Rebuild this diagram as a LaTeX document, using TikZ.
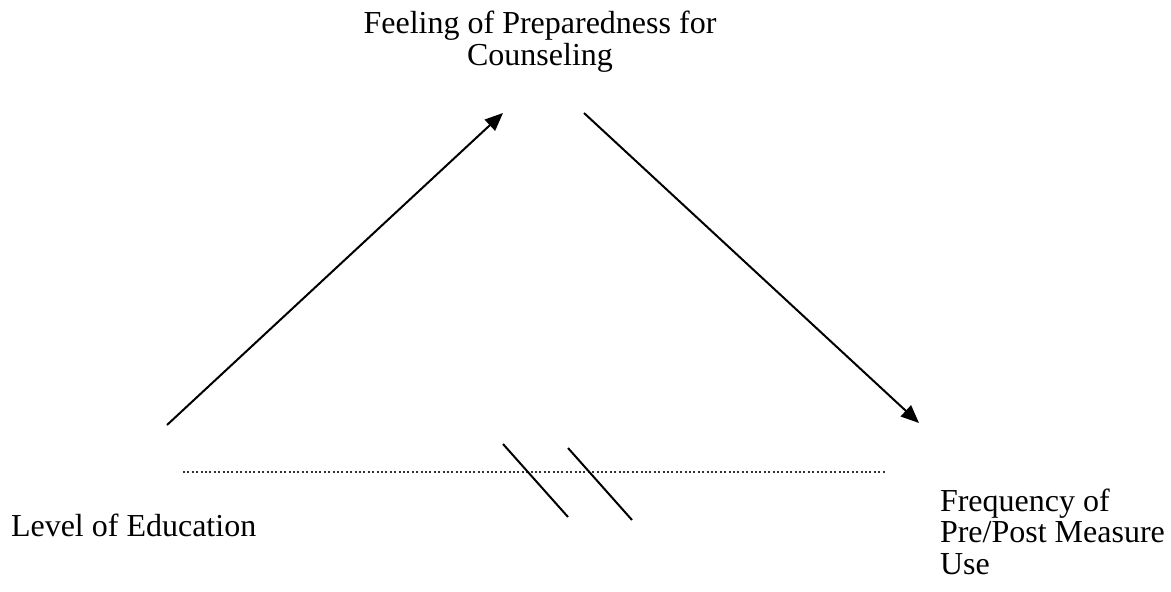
\documentclass[tikz,border=0pt]{standalone}
\usepackage{fontspec}
\setmainfont{Liberation Serif}
\usetikzlibrary{arrows.meta}

\begin{document}
\begin{tikzpicture}[x=1pt,y=-1pt,line width=2pt,>={Triangle[length=18pt,width=15pt]},
  lbl/.style={inner sep=0pt,font=\fontsize{32}{31.5}\selectfont}]
\useasboundingbox (0,0) rectangle (1171,592);
% 顶部：咨询准备感
\node[lbl,align=center,anchor=base] (feel) at (540,65) {Feeling of Preparedness for\\Counseling};
% 左下：教育水平
\node[lbl,anchor=base west] (edu) at (10,536) {Level of Education};
% 右下：前后测使用频率
\node[lbl,align=left,anchor=base west] (freq) at (939,574) {Frequency of\\Pre/Post Measure\\Use};
% 箭头端点
\coordinate (eduTop) at (167,425);
\coordinate (feelL) at (503,113);
\coordinate (feelR) at (584,113);
\coordinate (freqTop) at (919,423);
\draw[->] (eduTop) -- (feelL);
\draw[->] (feelR) -- (freqTop);
% 虚线（直接路径）及截断符号
\coordinate (dotL) at (183,472);
\coordinate (dotR) at (885,472);
\draw[line width=1.3pt,black!80,dash pattern=on 2pt off 2.4pt] (dotL) -- (dotR);
\draw (503,444) -- (568,517);
\draw (568,448) -- (632,520);
\end{tikzpicture}
\end{document}
